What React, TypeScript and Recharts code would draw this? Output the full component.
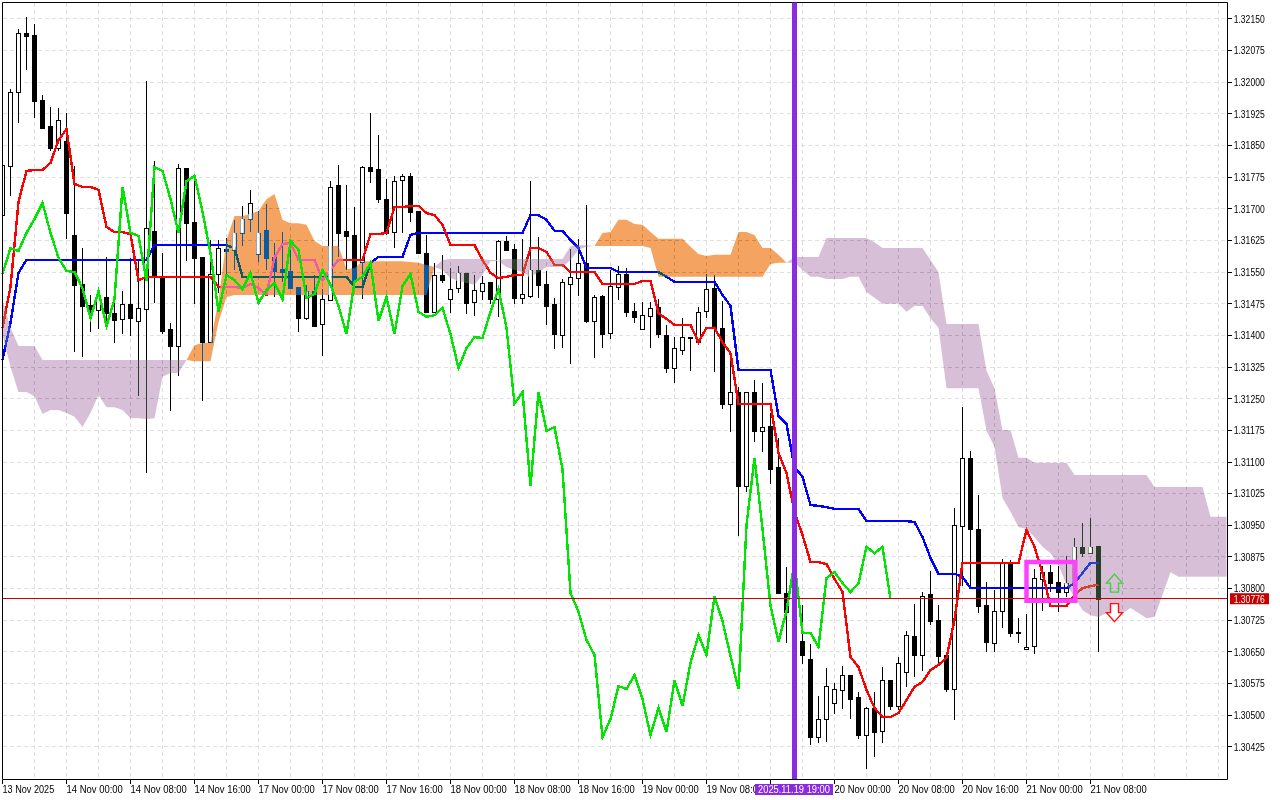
import React from "react";
import {
  ComposedChart, Bar, Line, Area, XAxis, YAxis, CartesianGrid, ReferenceLine, ReferenceArea, ReferenceDot,
} from "recharts";

// hourly candles, index 0 = 13 Nov 2025 16:00
const opens = [
  1.31685,1.31802,1.31977,1.32117,1.32112,1.31958,1.31896,1.31844,1.31861,1.31638,
  1.31522,1.31472,1.31460,1.31491,1.31453,1.31439,1.31475,1.31434,1.31463,1.31648,
  1.31541,1.31415,1.31375,1.31797,1.31669,1.31586,1.31384,1.31546,1.31605,1.31603,
  1.31643,1.31676,1.31593,1.31650,1.31586,1.31557,1.31553,1.31515,1.31441,1.31505,
  1.31427,1.31484,1.31757,1.31648,1.31638,1.31574,1.31799,1.31794,1.31723,1.31645,
  1.31768,1.31778,1.31695,1.31595,1.31456,1.31543,1.31486,1.31512,1.31548,1.31479,
  1.31505,1.31527,1.31486,1.31624,1.31605,1.31489,1.31494,1.31555,1.31522,1.31475,
  1.31401,1.31522,1.31536,1.31572,1.31434,1.31494,1.31406,1.31515,1.31546,1.31458,
  1.31415,1.31446,1.31467,1.31401,1.31323,1.31366,1.31396,1.31384,1.31458,1.31512,
  1.31418,1.31238,1.31266,1.31043,1.31266,1.31174,1.31185,1.31088,1.30790,1.30745,
  1.30676,1.30633,1.30448,1.30491,1.30529,1.30560,1.30595,1.30543,1.30453,1.30517,
  1.30463,1.30583,1.30522,1.30602,1.30688,1.30643,1.30787,1.30726,1.30643,1.30562,
  1.30948,1.31110,1.30941,1.30761,1.30671,1.30747,1.30863,1.30697,1.30657,1.30664,
  1.30823,1.30839,1.30816,1.30792,1.30813,1.30899,1.30884,1.30901,
];
const highs = [
  1.31804,1.31984,1.32126,1.32155,1.32138,1.31970,1.31941,1.31939,1.31927,1.31802,
  1.31607,1.31496,1.31512,1.31586,1.31477,1.31505,1.31584,1.31579,1.32003,1.31813,
  1.31595,1.31430,1.31806,1.31797,1.31783,1.31586,1.31626,1.31626,1.31631,1.31674,
  1.31707,1.31745,1.31695,1.31712,1.31619,1.31645,1.31621,1.31515,1.31520,1.31543,
  1.31510,1.31766,1.31804,1.31757,1.31704,1.31802,1.31927,1.31875,1.31771,1.31778,
  1.31783,1.31785,1.31695,1.31638,1.31572,1.31591,1.31560,1.31565,1.31548,1.31543,
  1.31541,1.31527,1.31626,1.31636,1.31617,1.31629,1.31766,1.31633,1.31553,1.31489,
  1.31534,1.31605,1.31629,1.31709,1.31496,1.31496,1.31555,1.31565,1.31560,1.31477,
  1.31479,1.31479,1.31486,1.31425,1.31396,1.31441,1.31396,1.31467,1.31546,1.31543,
  1.31482,1.31358,1.31278,1.31266,1.31294,1.31287,1.31216,1.31157,1.30851,1.30832,
  1.30761,1.30669,1.30545,1.30612,1.30576,1.30617,1.30595,1.30555,1.30519,1.30555,
  1.30614,1.30583,1.30638,1.30700,1.30764,1.30792,1.30842,1.30761,1.30643,1.30991,
  1.31230,1.31126,1.31022,1.30816,1.30797,1.30870,1.30868,1.30730,1.30740,1.30847,
  1.30854,1.30856,1.30854,1.30877,1.30920,1.30955,1.30967,1.30901,
];
const lows = [
  1.31685,1.31730,1.31903,1.32029,1.31915,1.31892,1.31837,1.31837,1.31629,1.31361,
  1.31349,1.31408,1.31415,1.31425,1.31382,1.31403,1.31399,1.31256,1.31074,1.31477,
  1.31403,1.31221,1.31304,1.31576,1.31475,1.31245,1.31382,1.31501,1.31531,1.31555,
  1.31612,1.31645,1.31574,1.31555,1.31491,1.31527,1.31512,1.31408,1.31437,1.31420,
  1.31351,1.31484,1.31586,1.31555,1.31527,1.31486,1.31761,1.31714,1.31638,1.31607,
  1.31643,1.31669,1.31595,1.31453,1.31453,1.31524,1.31453,1.31501,1.31451,1.31446,
  1.31484,1.31475,1.31444,1.31600,1.31475,1.31475,1.31489,1.31489,1.31425,1.31368,
  1.31370,1.31332,1.31494,1.31430,1.31347,1.31370,1.31392,1.31484,1.31444,1.31430,
  1.31413,1.31370,1.31394,1.31311,1.31287,1.31354,1.31316,1.31384,1.31441,1.31313,
  1.31226,1.31171,1.30925,1.31029,1.31147,1.31124,1.31048,1.30787,1.30671,1.30655,
  1.30621,1.30429,1.30434,1.30436,1.30503,1.30515,1.30491,1.30444,1.30373,1.30401,
  1.30434,1.30512,1.30512,1.30567,1.30591,1.30605,1.30714,1.30624,1.30555,1.30489,
  1.30806,1.30801,1.30742,1.30650,1.30650,1.30707,1.30685,1.30671,1.30655,1.30645,
  1.30747,1.30792,1.30745,1.30780,1.30808,1.30875,1.30884,1.30650,
];
const closes = [
  1.31804,1.31977,1.32117,1.32110,1.31956,1.31892,1.31844,1.31911,1.31690,1.31520,
  1.31470,1.31456,1.31494,1.31453,1.31437,1.31475,1.31441,1.31465,1.31655,1.31543,
  1.31410,1.31375,1.31797,1.31666,1.31584,1.31384,1.31546,1.31607,1.31600,1.31643,
  1.31676,1.31714,1.31643,1.31584,1.31553,1.31550,1.31512,1.31441,1.31505,1.31422,
  1.31486,1.31752,1.31643,1.31636,1.31529,1.31799,1.31790,1.31723,1.31643,1.31766,
  1.31778,1.31693,1.31595,1.31456,1.31543,1.31531,1.31510,1.31548,1.31477,1.31508,
  1.31524,1.31486,1.31624,1.31603,1.31489,1.31498,1.31555,1.31520,1.31470,1.31403,
  1.31527,1.31539,1.31572,1.31434,1.31491,1.31403,1.31517,1.31546,1.31456,1.31444,
  1.31448,1.31465,1.31403,1.31323,1.31370,1.31396,1.31394,1.31456,1.31510,1.31418,
  1.31238,1.31266,1.31043,1.31266,1.31174,1.31183,1.31083,1.30790,1.30745,1.30678,
  1.30643,1.30448,1.30491,1.30569,1.30562,1.30595,1.30538,1.30453,1.30517,1.30460,
  1.30583,1.30522,1.30624,1.30690,1.30643,1.30782,1.30723,1.30640,1.30562,1.30951,
  1.31110,1.30941,1.30759,1.30674,1.30747,1.30863,1.30695,1.30695,1.30662,1.30825,
  1.30839,1.30813,1.30792,1.30813,1.30899,1.30884,1.30899,1.30776,
];

const tenkan = [
  1.31418,1.31515,1.31716,1.31790,1.31792,1.31792,1.31809,1.31863,1.31889,1.31759,
  1.31752,1.31752,1.31745,1.31657,1.31645,1.31645,1.31640,1.31531,1.31539,1.31539,
  1.31539,1.31539,1.31539,1.31539,1.31539,1.31539,1.31539,1.31515,1.31515,1.31515,
  1.31512,1.31522,1.31512,1.31496,1.31584,1.31617,1.31619,1.31579,1.31579,1.31579,
  1.31531,1.31555,1.31579,1.31579,1.31579,1.31579,1.31640,1.31640,1.31643,1.31704,
  1.31704,1.31707,1.31707,1.31690,1.31685,1.31662,1.31614,1.31614,1.31614,1.31614,
  1.31579,1.31548,1.31536,1.31539,1.31543,1.31543,1.31607,1.31607,1.31598,1.31567,
  1.31567,1.31550,1.31550,1.31550,1.31550,1.31522,1.31522,1.31522,1.31522,1.31522,
  1.31529,1.31529,1.31453,1.31439,1.31425,1.31425,1.31425,1.31384,1.31418,1.31418,
  1.31384,1.31358,1.31238,1.31238,1.31238,1.31238,1.31238,1.31121,1.31074,1.30982,
  1.30927,1.30863,1.30863,1.30858,1.30823,1.30792,1.30638,1.30614,1.30560,1.30517,
  1.30496,1.30496,1.30505,1.30536,1.30567,1.30579,1.30607,1.30619,1.30636,1.30726,
  1.30861,1.30861,1.30861,1.30861,1.30861,1.30861,1.30861,1.30861,1.30939,1.30899,
  1.30837,1.30759,1.30759,1.30759,1.30785,1.30801,1.30806,1.30809,
];
const kijun = [
  1.31342,1.31430,1.31548,1.31579,1.31579,1.31579,1.31579,1.31579,1.31579,1.31579,
  1.31579,1.31579,1.31579,1.31579,1.31579,1.31579,1.31579,1.31579,1.31579,1.31614,
  1.31614,1.31614,1.31614,1.31614,1.31614,1.31614,1.31614,1.31614,1.31614,1.31607,
  1.31539,1.31539,1.31539,1.31539,1.31539,1.31539,1.31539,1.31539,1.31539,1.31539,
  1.31539,1.31539,1.31539,1.31539,1.31515,1.31515,1.31572,1.31586,1.31586,1.31586,
  1.31586,1.31638,1.31643,1.31643,1.31643,1.31643,1.31643,1.31643,1.31643,1.31643,
  1.31643,1.31643,1.31643,1.31643,1.31643,1.31643,1.31685,1.31685,1.31674,1.31648,
  1.31648,1.31626,1.31607,1.31560,1.31560,1.31560,1.31560,1.31550,1.31550,1.31550,
  1.31550,1.31550,1.31550,1.31539,1.31527,1.31527,1.31527,1.31527,1.31527,1.31527,
  1.31496,1.31470,1.31318,1.31318,1.31318,1.31318,1.31318,1.31209,1.31190,1.31088,
  1.31065,1.30998,1.30996,1.30993,1.30989,1.30989,1.30989,1.30989,1.30960,1.30960,
  1.30960,1.30960,1.30960,1.30960,1.30958,1.30922,1.30873,1.30835,1.30835,1.30835,
  1.30828,1.30801,1.30801,1.30801,1.30801,1.30801,1.30801,1.30801,1.30801,1.30801,
  1.30801,1.30801,1.30801,1.30801,1.30813,1.30837,1.30861,1.30861,
];
const chikou = [
  1.31546,1.31607,1.31600,1.31643,
  1.31676,1.31714,1.31643,1.31584,1.31553,1.31550,1.31512,1.31441,1.31505,1.31422,
  1.31486,1.31752,1.31643,1.31636,1.31529,1.31799,1.31790,1.31723,1.31643,1.31766,
  1.31778,1.31693,1.31595,1.31456,1.31543,1.31531,1.31510,1.31548,1.31477,1.31508,
  1.31524,1.31486,1.31624,1.31603,1.31489,1.31498,1.31555,1.31520,1.31470,1.31403,
  1.31527,1.31539,1.31572,1.31434,1.31491,1.31403,1.31517,1.31546,1.31456,1.31444,
  1.31448,1.31465,1.31403,1.31323,1.31370,1.31396,1.31394,1.31456,1.31510,1.31418,
  1.31238,1.31266,1.31043,1.31266,1.31174,1.31183,1.31083,1.30790,1.30745,1.30678,
  1.30643,1.30448,1.30491,1.30569,1.30562,1.30595,1.30538,1.30453,1.30517,1.30460,
  1.30583,1.30522,1.30624,1.30690,1.30643,1.30782,1.30723,1.30640,1.30562,1.30951,
  1.31110,1.30941,1.30759,1.30674,1.30747,1.30863,1.30695,1.30695,1.30662,1.30825,
  1.30839,1.30813,1.30792,1.30813,1.30899,1.30884,1.30899,1.30776,
];
const spanA = [
  1.31401,1.31325,1.31266,1.31266,1.31256,1.31214,1.31223,1.31223,1.31216,1.31207,
  1.31183,1.31216,1.31259,1.31230,1.31230,1.31223,1.31204,1.31204,1.31202,1.31204,
  1.31302,1.31311,1.31311,1.31342,1.31377,1.31382,1.31382,1.31484,1.31626,1.31683,
  1.31683,1.31688,1.31695,1.31723,1.31735,1.31674,1.31666,1.31666,1.31662,1.31624,
  1.31612,1.31612,1.31612,1.31557,1.31560,1.31576,1.31576,1.31576,1.31576,1.31576,
  1.31576,1.31574,1.31572,1.31567,1.31562,1.31555,1.31536,1.31529,1.31524,1.31520,
  1.31543,1.31576,1.31576,1.31562,1.31555,1.31550,1.31539,1.31550,1.31562,1.31562,
  1.31562,1.31579,1.31603,1.31610,1.31612,1.31643,1.31645,1.31674,1.31674,1.31664,
  1.31662,1.31645,1.31629,1.31629,1.31629,1.31629,1.31610,1.31593,1.31588,1.31591,
  1.31591,1.31591,1.31645,1.31645,1.31638,1.31607,1.31607,1.31591,1.31572,1.31572,
  1.31555,1.31539,1.31539,1.31534,1.31534,1.31534,1.31539,1.31539,1.31503,1.31489,
  1.31475,1.31475,1.31475,1.31456,1.31470,1.31470,1.31441,1.31418,1.31275,1.31275,
  1.31275,1.31275,1.31275,1.31174,1.31136,1.31015,1.30982,1.30946,1.30941,1.30922,
  1.30899,1.30884,1.30856,1.30809,1.30780,1.30749,1.30737,1.30733,1.30742,1.30733,
  1.30742,1.30754,1.30742,1.30730,1.30733,1.30785,1.30839,1.30828,1.30828,1.30828,
  1.30828,1.30828,1.30828,1.30828,
];
const spanB = [
  1.31484,1.31418,1.31375,1.31375,1.31375,1.31342,1.31342,1.31342,1.31342,1.31342,
  1.31342,1.31342,1.31342,1.31342,1.31342,1.31342,1.31342,1.31342,1.31342,1.31342,
  1.31342,1.31342,1.31342,1.31342,1.31339,1.31339,1.31339,1.31432,1.31491,1.31496,
  1.31496,1.31496,1.31496,1.31496,1.31496,1.31496,1.31496,1.31496,1.31496,1.31496,
  1.31496,1.31496,1.31496,1.31496,1.31496,1.31496,1.31496,1.31496,1.31496,1.31496,
  1.31496,1.31496,1.31496,1.31496,1.31562,1.31579,1.31581,1.31581,1.31581,1.31581,
  1.31581,1.31579,1.31579,1.31581,1.31581,1.31581,1.31581,1.31581,1.31581,1.31581,
  1.31581,1.31612,1.31614,1.31614,1.31612,1.31612,1.31612,1.31612,1.31612,1.31612,
  1.31612,1.31607,1.31539,1.31539,1.31539,1.31539,1.31539,1.31539,1.31539,1.31539,
  1.31539,1.31539,1.31539,1.31539,1.31539,1.31539,1.31569,1.31572,1.31572,1.31586,
  1.31586,1.31586,1.31586,1.31631,1.31631,1.31631,1.31631,1.31631,1.31631,1.31621,
  1.31607,1.31607,1.31607,1.31607,1.31607,1.31607,1.31579,1.31550,1.31427,1.31427,
  1.31427,1.31427,1.31427,1.31316,1.31275,1.31176,1.31176,1.31110,1.31110,1.31098,
  1.31098,1.31098,1.31098,1.31098,1.31069,1.31069,1.31069,1.31069,1.31069,1.31069,
  1.31069,1.31069,1.31069,1.31069,1.31041,1.31041,1.31041,1.31041,1.31041,1.31041,
  1.31041,1.30970,1.30970,1.30970,
];

const priceTicks = [
  1.30425,1.30500,1.30575,1.30650,1.30725,1.30800,1.30875,1.30950,1.31025,1.31100,1.31175,1.31250,
  1.31325,1.31400,1.31475,1.31550,1.31625,1.31700,1.31775,1.31850,1.31925,1.32000,1.32075,1.32150,
];
const timeTickIndex = [0,8,16,24,32,40,48,56,64,72,80,88,96,99,104,112,120,128,136];
// the 19 Nov 16:00 label sits under the marker's date box, the 08:00 one is cut by it
const timeTickLabel = [
  "13 Nov 2025","14 Nov 00:00","14 Nov 08:00","14 Nov 16:00","17 Nov 00:00","17 Nov 08:00","17 Nov 16:00",
  "18 Nov 00:00","18 Nov 08:00","18 Nov 16:00","19 Nov 00:00","19 Nov 08:0","","2025.11.19 19:00",
  "20 Nov 00:00","20 Nov 08:00","20 Nov 16:00","21 Nov 00:00","21 Nov 08:00",
];
const gridIndex = Array.from({ length: 39 }, (_, k) => k * 4);

const CURRENT_PRICE = 1.30776;
const MARKER_INDEX = 99;
const SIGNAL_INDEX = 139;
const BUY_ARROW_PRICE = 1.30813;
const SELL_ARROW_PRICE = 1.30743;
const BOX = { x1: 128, x2: 134.1, y1: 1.30771, y2: 1.30863 };

const X_MAX = 153.125;
const Y_MIN = 1.303476;
const Y_MAX = 1.32189;
const PLOT_RIGHT = 1227.5;
const PLOT_BOTTOM = 779.5;
const FONT = "'Liberation Sans', Arial, sans-serif";
const FONT_SIZE = 10.5;
const LINE_WIDTH = 2.4;

const rows = spanA.map((a, i) => {
  const b = spanB[i];
  const o = opens[i];
  const c = closes[i];
  const lo = Math.min(a, b);
  const hi = Math.max(a, b);
  const row: any = {
    index: i,
    open: o,
    high: highs[i],
    low: lows[i],
    close: c,
    range: o === undefined ? null : [lows[i], highs[i]],
    tenkan: tenkan[i],
    kijun: kijun[i],
    chikou: chikou[i],
    orange: a >= b ? [b, a] : null,
    purple: a <= b ? [a, b] : null,
    bullInCloud: null,
  };
  // bull bodies stay white where the cloud covers them
  if (o !== undefined && c > o && Math.min(c, hi) > Math.max(o, lo)) {
    row.bullInCloud = [Math.max(o, lo), Math.min(c, hi)];
  }
  return row;
});

function Candle(props: any) {
  const { x, y, width, height, payload } = props;
  const { open, high, low, close } = payload;
  if (high === low) return null;
  const k = height / (high - low);
  const cx = Math.floor(x + width / 2) + 0.5;
  const top = Math.round(y + (high - Math.max(open, close)) * k) + 0.5;
  const bottom = Math.round(y + (high - Math.min(open, close)) * k) + 0.5;
  const bull = close > open;
  const left = Math.max(cx - 2, 2.5);
  return (
    <g shapeRendering="crispEdges">
      <line x1={cx} x2={cx} y1={y} y2={y + height} stroke="#000" />
      <rect x={left} y={top} width={cx + 2 - left} height={Math.max(bottom - top, 1)} fill={bull ? "#fff" : "#000"} stroke="#000" />
    </g>
  );
}

function TimeTick({ x, payload }: any) {
  const label = timeTickLabel[timeTickIndex.indexOf(payload.value)];
  if (payload.value === MARKER_INDEX) {
    return (
      <g>
        <rect x={755} y={784} width={78} height={11} fill="#8A2BE2" />
        <text x={758} y={792.5} fontSize={FONT_SIZE} fontFamily={FONT} fill="#fff" textLength={72} lengthAdjust="spacingAndGlyphs">{label}</text>
      </g>
    );
  }
  return (
    <g>
      <line x1={x} x2={x} y1={PLOT_BOTTOM} y2={784} stroke="#000" shapeRendering="crispEdges" />
      {label && (
        <text x={x} y={792.5} fontSize={FONT_SIZE} fontFamily={FONT} fill="#000" textLength={label.length * 4.7} lengthAdjust="spacingAndGlyphs">{label}</text>
      )}
    </g>
  );
}

function PriceTick({ y, payload }: any) {
  const text = payload.value.toFixed(5);
  if (payload.value === CURRENT_PRICE) {
    return (
      <g>
        <rect x={1230} y={y - 5.5} width={39} height={11} fill="#C80000" />
        <text x={1233.7} y={y + 3.8} fontSize={FONT_SIZE} fontFamily={FONT} fill="#fff" textLength={31} lengthAdjust="spacingAndGlyphs">{text}</text>
      </g>
    );
  }
  return (
    <g>
      <line x1={PLOT_RIGHT} x2={PLOT_RIGHT + 4} y1={y} y2={y} stroke="#000" shapeRendering="crispEdges" />
      <text x={1233.7} y={y + 3.8} fontSize={FONT_SIZE} fontFamily={FONT} fill="#000" textLength={31} lengthAdjust="spacingAndGlyphs">{text}</text>
    </g>
  );
}

function UpArrow({ cx, cy }: any) {
  const d = `M${cx},${cy - 9} L${cx + 8},${cy} L${cx + 4},${cy} L${cx + 4},${cy + 9} L${cx - 4},${cy + 9} L${cx - 4},${cy} L${cx - 8},${cy} Z`;
  return <path d={d} fill="none" stroke="#40D040" strokeWidth={1.4} />;
}

function DownArrow({ cx, cy }: any) {
  const d = `M${cx},${cy + 9} L${cx + 8},${cy} L${cx + 4},${cy} L${cx + 4},${cy - 9} L${cx - 4},${cy - 9} L${cx - 4},${cy} L${cx - 8},${cy} Z`;
  return <path d={d} fill="#fff" stroke="#FF1010" strokeWidth={1.4} />;
}

export default function App() {
  return (
    <div style={{ position: "absolute", left: 0, top: 0, width: 1280, height: 800, background: "#fff" }}>
      <style>{`.kumo .recharts-area-area { mix-blend-mode: difference; }`}</style>
      <ComposedChart
        width={1280}
        height={800}
        data={rows}
        margin={{ top: 2.5, left: 2.5, right: 0, bottom: 0 }}
      >
        <CartesianGrid
          fill="#fff"
          stroke="#E0E0E0"
          strokeDasharray="4 3"
          verticalValues={gridIndex}
          horizontalValues={priceTicks}
          shapeRendering="crispEdges"
        />
        <XAxis
          dataKey="index"
          type="number"
          domain={[0, X_MAX]}
          ticks={timeTickIndex}
          interval={0}
          height={20.5}
          tick={<TimeTick />}
          tickLine={false}
          stroke="#000"
        />
        <XAxis xAxisId="fill" dataKey="index" type="number" domain={[0, X_MAX]} ticks={timeTickIndex} hide height={0} />
        <YAxis
          orientation="right"
          type="number"
          domain={[Y_MIN, Y_MAX]}
          ticks={[...priceTicks, CURRENT_PRICE]}
          interval={0}
          width={52.5}
          tick={<PriceTick />}
          tickLine={false}
          stroke="#000"
        />

        <Bar dataKey="range" barSize={5} shape={Candle} isAnimationActive={false} zIndex={1} />
        <Line dataKey="kijun" stroke="#0000FF" strokeWidth={LINE_WIDTH} dot={false} activeDot={false} shapeRendering="crispEdges" isAnimationActive={false} zIndex={2} />
        <Line dataKey="tenkan" stroke="#FF0000" strokeWidth={LINE_WIDTH} dot={false} activeDot={false} shapeRendering="crispEdges" isAnimationActive={false} zIndex={2} />
        <Area className="kumo" dataKey="orange" stroke="none" fill="#0B5B9F" fillOpacity={1} isAnimationActive={false} activeDot={false} dot={false} zIndex={3} />
        <Area className="kumo" dataKey="purple" stroke="none" fill="#274027" fillOpacity={1} isAnimationActive={false} activeDot={false} dot={false} zIndex={3} />
        <Bar xAxisId="fill" dataKey="bullInCloud" barSize={3} fill="#fff" isAnimationActive={false} zIndex={4} />
        <Line dataKey="chikou" stroke="#00E600" strokeWidth={LINE_WIDTH} dot={false} activeDot={false} shapeRendering="crispEdges" isAnimationActive={false} zIndex={5} />

        <ReferenceLine x={0} stroke="#000" zIndex={6} />
        <ReferenceLine y={Y_MAX} stroke="#000" zIndex={6} />
        <ReferenceLine y={CURRENT_PRICE} stroke="#C80000" shapeRendering="crispEdges" zIndex={6} />
        <ReferenceLine x={MARKER_INDEX} stroke="#8A2BE2" strokeWidth={5} zIndex={6} />
        <ReferenceArea x1={BOX.x1} x2={BOX.x2} y1={BOX.y1} y2={BOX.y2} fill="none" stroke="#FF40FF" strokeWidth={4.5} zIndex={6} />
        <ReferenceDot x={SIGNAL_INDEX} y={BUY_ARROW_PRICE} shape={UpArrow} zIndex={6} />
        <ReferenceDot x={SIGNAL_INDEX} y={SELL_ARROW_PRICE} shape={DownArrow} zIndex={6} />
      </ComposedChart>
    </div>
  );
}
